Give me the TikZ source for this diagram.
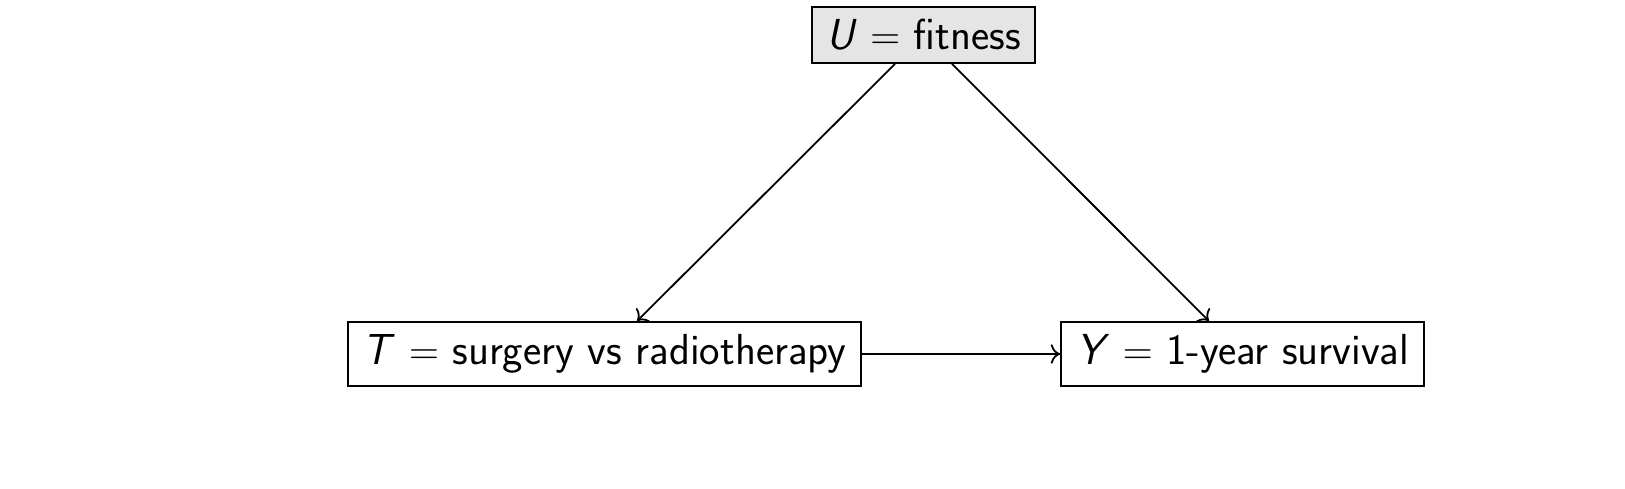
\documentclass[tikz,border=0pt]{standalone}
\usetikzlibrary{calc,arrows.meta}
\begin{document}
\begin{tikzpicture}[x=0.5pt,y=-0.5pt,
  box/.style={draw,line width=0.9pt,inner sep=0pt,font=\sffamily\fontsize{21.7}{26}\selectfont},
  conn/.style={-{To[scale=1.3]},line width=0.9pt}]
\useasboundingbox[fill=white] (0,0) rectangle (1625,488);
\node[box,fill=black!10,minimum width=111.5pt,minimum height=28pt] (U) at (923.5,35) {\textit{U} $=$ fitness};
\node[box,minimum width=256.5pt,minimum height=32pt] (T) at (604.5,354) {\textit{T} $=$ surgery vs radiotherapy};
\node[box,minimum width=181.5pt,minimum height=32pt] (Y) at (1242.5,354) {\textit{Y} $=$ 1-year survival};
\draw[conn] ($(U.south)+(-28.5,0)$) -- ($(T.north)+(32.5,0)$);
\draw[conn] ($(U.south)+(28.5,0)$) -- ($(Y.north)+(-33.5,0)$);
\draw[conn] (T.east) -- (Y.west);
\end{tikzpicture}
\end{document}
